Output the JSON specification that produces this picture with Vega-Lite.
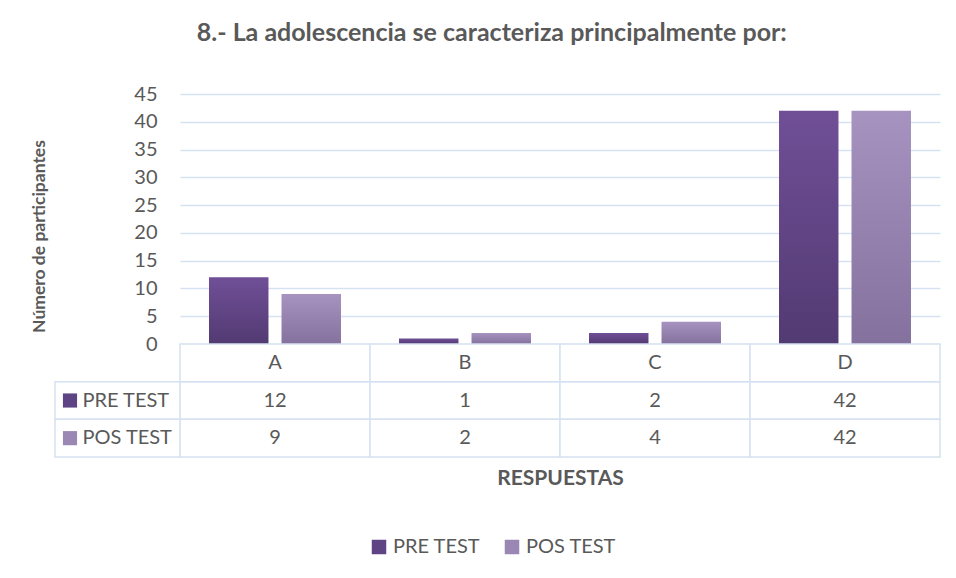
{
  "$schema": "https://vega.github.io/schema/vega-lite/v6.json",
  "background": "white",
  "padding": {"left": 30, "top": 21, "right": 16, "bottom": 10},
  "title": {"text": "8.- La adolescencia se caracteriza principalmente por:", "font": "Lato", "fontSize": 25, "fontWeight": "bold", "color": "#595959", "anchor": "middle", "offset": 38, "dx": 6},
  "data": {"values": [
    {"cat": "A", "series": "PRE TEST", "value": 12},
    {"cat": "A", "series": "POS TEST", "value": 9},
    {"cat": "B", "series": "PRE TEST", "value": 1},
    {"cat": "B", "series": "POS TEST", "value": 2},
    {"cat": "C", "series": "PRE TEST", "value": 2},
    {"cat": "C", "series": "POS TEST", "value": 4},
    {"cat": "D", "series": "PRE TEST", "value": 42},
    {"cat": "D", "series": "POS TEST", "value": 42}
  ]},
  "spacing": 0,
  "bounds": "flush",
  "vconcat": [
    {
      "width": 760,
      "height": 250,
      "encoding": {
        "x": {"field": "cat", "type": "nominal", "scale": {"domain": ["A", "B", "C", "D"], "paddingInner": 0, "paddingOuter": 0}, "axis": null},
        "xOffset": {"field": "series", "type": "nominal", "scale": {"domain": ["PRE TEST", "POS TEST"], "paddingInner": 0.18, "paddingOuter": 0.4}},
        "y": {"field": "value", "type": "quantitative", "scale": {"domain": [0, 45], "nice": false},
          "axis": {"values": [0, 5, 10, 15, 20, 25, 30, 35, 40, 45], "title": "Número de participantes", "titleFont": "Lato", "titleFontSize": 17.5, "titleFontWeight": "bold", "titleColor": "#595959", "titlePadding": 85, "titleY": 142, "labelFont": "Lato", "labelFontSize": 20, "labelColor": "#595959", "labelPadding": 23, "ticks": false, "domain": false, "grid": true, "gridColor": "#d6e1f1", "gridWidth": 1.5}}
      },
      "layer": [
        {
          "transform": [{"filter": "datum.series === 'PRE TEST'"}],
          "mark": {"type": "bar", "fill": {"gradient": "linear", "x1": 0, "y1": 0, "x2": 0, "y2": 1, "stops": [{"offset": 0, "color": "#704f97"}, {"offset": 1, "color": "#523a72"}]}}
        },
        {
          "transform": [{"filter": "datum.series === 'POS TEST'"}],
          "mark": {"type": "bar", "fill": {"gradient": "linear", "x1": 0, "y1": 0, "x2": 0, "y2": 1, "stops": [{"offset": 0, "color": "#a693bf"}, {"offset": 1, "color": "#84719d"}]}}
        },
        {
          "mark": {"type": "square", "opacity": 0, "size": 1},
          "encoding": {
            "color": {"field": "series", "type": "nominal", "scale": {"domain": ["PRE TEST", "POS TEST"], "range": ["#5e4484", "#9a87b3"]},
              "legend": {"title": null, "orient": "none", "direction": "horizontal", "legendX": 189, "legendY": 443, "symbolType": "square", "symbolSize": 210, "symbolOpacity": 1, "symbolStrokeWidth": 0, "labelFont": "Lato", "labelFontSize": 20, "labelColor": "#595959", "columnPadding": 21, "symbolOffset": 0, "labelOffset": 4}}
          }
        }
      ]
    },
    {
      "width": 760,
      "height": 113,
      "layer": [
        {
          "encoding": {
            "x": {"field": "cat", "type": "nominal", "scale": {"domain": ["A", "B", "C", "D"], "paddingInner": 0, "paddingOuter": 0},
              "axis": {"labels": false, "ticks": false, "domain": false, "grid": false, "title": "RESPUESTAS", "titleFont": "Lato", "titleFontSize": 21, "titleFontWeight": "bold", "titleColor": "#595959", "titlePadding": 10}},
            "y": {"field": "series", "type": "nominal", "scale": {"domain": ["cat", "PRE TEST", "POS TEST"], "paddingInner": 0, "paddingOuter": 0}, "axis": null}
          },
          "layer": [
            {"mark": {"type": "rect", "fill": "white", "stroke": "#d6e1f1", "strokeWidth": 1.5}},
            {"transform": [{"filter": "datum.series === 'PRE TEST'"}], "mark": {"type": "rect", "fill": "white", "stroke": "#d6e1f1", "strokeWidth": 1.5}, "encoding": {"y": {"datum": "cat", "type": "nominal"}}},
            {"mark": {"type": "text", "font": "Lato", "fontSize": 20, "color": "#595959"}, "encoding": {"text": {"field": "value", "type": "quantitative"}}},
            {"transform": [{"filter": "datum.series === 'PRE TEST'"}], "mark": {"type": "text", "font": "Lato", "fontSize": 20, "color": "#595959"}, "encoding": {"y": {"datum": "cat", "type": "nominal"}, "text": {"field": "cat", "type": "nominal"}}}
          ]
        },
        {
          "transform": [{"filter": "datum.cat === 'A'"}],
          "encoding": {
            "y": {"field": "series", "type": "nominal", "scale": {"domain": ["cat", "PRE TEST", "POS TEST"], "paddingInner": 0, "paddingOuter": 0}, "axis": null}
          },
          "layer": [
            {"mark": {"type": "rect", "fill": "white", "stroke": "#d6e1f1", "strokeWidth": 1.5}, "encoding": {"x": {"datum": "lab", "type": "nominal", "scale": {"domain": ["lab"], "range": [-125, 0], "paddingInner": 0, "paddingOuter": 0}, "axis": null}}},
            {"mark": {"type": "square", "filled": true, "size": 200, "opacity": 1}, "encoding": {"x": {"datum": "lab", "type": "nominal", "bandPosition": 0.12}, "color": {"field": "series", "type": "nominal", "legend": null}}},
            {"mark": {"type": "text", "font": "Lato", "fontSize": 20, "color": "#595959", "align": "left"}, "encoding": {"x": {"datum": "lab", "type": "nominal", "bandPosition": 0.22}, "text": {"field": "series", "type": "nominal"}}}
          ]
        }
      ],
      "resolve": {"scale": {"x": "independent"}, "axis": {"x": "independent"}}
    }
  ],
  "config": {"view": {"stroke": null}, "font": "Lato"}
}
